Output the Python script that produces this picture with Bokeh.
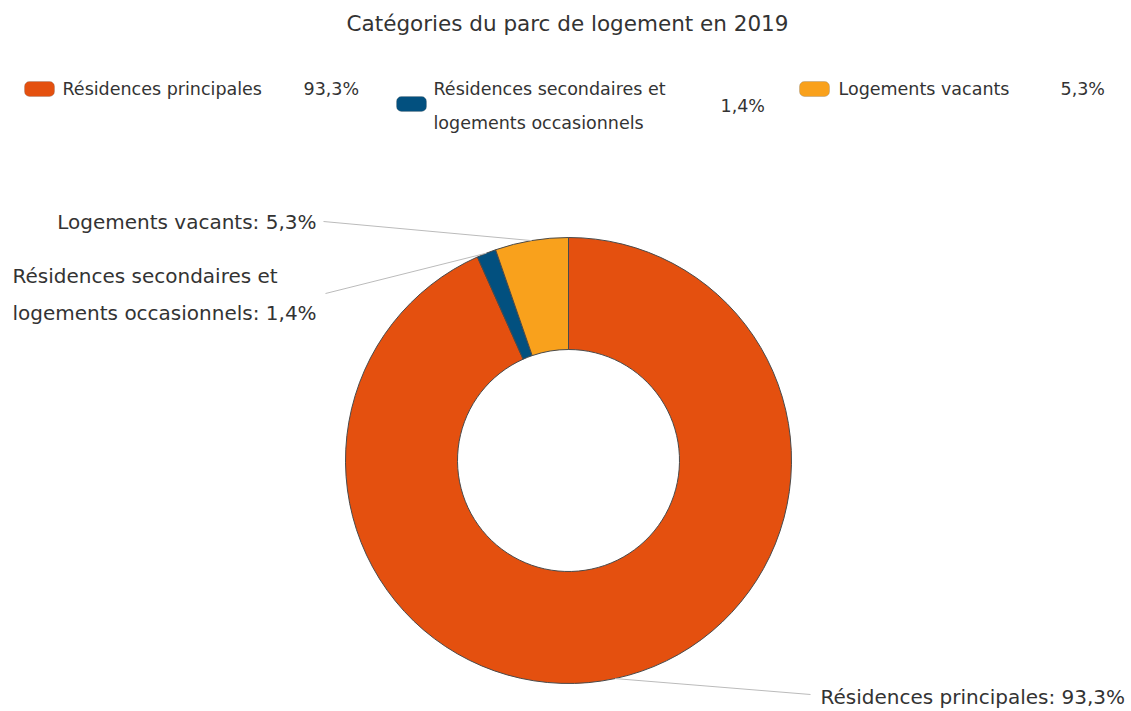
import math
from bokeh.plotting import figure
from bokeh.models import Range1d, BoxAnnotation
from bokeh.core.properties import value
from bokeh.embed import file_html
from bokeh.resources import INLINE

# ---- data ----
categories = ["Résidences principales", "Résidences secondaires et logements occasionnels", "Logements vacants"]
shares = [93.3, 1.4, 5.3]
share_labels = ["93,3%", "1,4%", "5,3%"]
colors = ["#E4500F", "#02507F", "#F9A11C"]
title_text = "Catégories du parc de logement en 2019"

W, H = 1131, 711
FONT = "DejaVu Sans"
TXT = "#333333"

def X(px):
    return px

def Y(py):
    return H - py

p = figure(width=W, height=H, x_range=Range1d(0, W), y_range=Range1d(0, H),
           output_backend="svg", toolbar_location=None, min_border=0,
           x_axis_location=None, y_axis_location=None)
p.grid.visible = False
p.outline_line_color = None
p.background_fill_color = "white"
p.border_fill_color = "white"

# title
p.text([X(567)], [Y(23)], text=[title_text], text_font=value(FONT), text_font_size="21.5px",
       text_align="center", text_baseline="middle", text_color=TXT)

# donut
cx, cy = X(568), Y(460)
r_out, r_in = 223, 111
total = sum(shares)
starts, ends, mids = [], [], []
acc = 0.0
for s in shares:
    a0 = math.pi / 2 - 2 * math.pi * acc / total
    acc += s
    a1 = math.pi / 2 - 2 * math.pi * acc / total
    starts.append(a0)
    ends.append(a1)
    mids.append((a0 + a1) / 2)

p.annular_wedge(x=[cx] * 3, y=[cy] * 3, inner_radius=r_in, outer_radius=r_out,
                start_angle=starts, end_angle=ends, direction="clock",
                fill_color=colors, line_color="#4a4a4a", line_width=1)

# data labels + connectors
label_anchor = [(X(810), Y(694)), (X(325), Y(293)), (X(323), Y(221))]
for i in range(3):
    ex = cx + r_out * math.cos(mids[i])
    ey = cy + r_out * math.sin(mids[i])
    ax, ay = label_anchor[i]
    p.line([ex, ax], [ey, ay], line_color="#bbbbbb", line_width=1)

LBL = "20px"
p.text([X(820)], [Y(696)], text=[categories[0] + ": " + share_labels[0]], text_font=value(FONT),
       text_font_size=LBL, text_align="left", text_baseline="middle", text_color=TXT)
p.text([X(12), X(12)], [Y(275), Y(312)],
       text=["Résidences secondaires et", "logements occasionnels: " + share_labels[1]],
       text_font=value(FONT), text_font_size=LBL, text_align="left", text_baseline="middle",
       text_color=TXT)
p.text([X(316)], [Y(221)], text=[categories[2] + ": " + share_labels[2]], text_font=value(FONT),
       text_font_size=LBL, text_align="right", text_baseline="middle", text_color=TXT)

# legend
sw = [(24, 81), (396, 96), (799, 81)]
for (sx, sy), c in zip(sw, colors):
    p.add_layout(BoxAnnotation(left=X(sx), right=X(sx + 30), top=Y(sy), bottom=Y(sy + 15),
                               fill_color=c, fill_alpha=1, line_color="#777777", line_width=1,
                               border_radius=5))

LEG = "17.5px"
leg_text = [("Résidences principales", 62, 88), ("Résidences secondaires et", 433, 88),
            ("logements occasionnels", 433, 122), ("Logements vacants", 838, 88)]
p.text([X(t[1]) for t in leg_text], [Y(t[2]) for t in leg_text], text=[t[0] for t in leg_text],
       text_font=value(FONT), text_font_size=LEG, text_align="left", text_baseline="middle",
       text_color=TXT)
leg_val = [(share_labels[0], 303, 88), (share_labels[1], 720, 105), (share_labels[2], 1060, 88)]
p.text([X(t[1]) for t in leg_val], [Y(t[2]) for t in leg_val], text=[t[0] for t in leg_val],
       text_font=value(FONT), text_font_size=LEG, text_align="left", text_baseline="middle",
       text_color=TXT)

open("out.html", "w").write(file_html(p, INLINE))
